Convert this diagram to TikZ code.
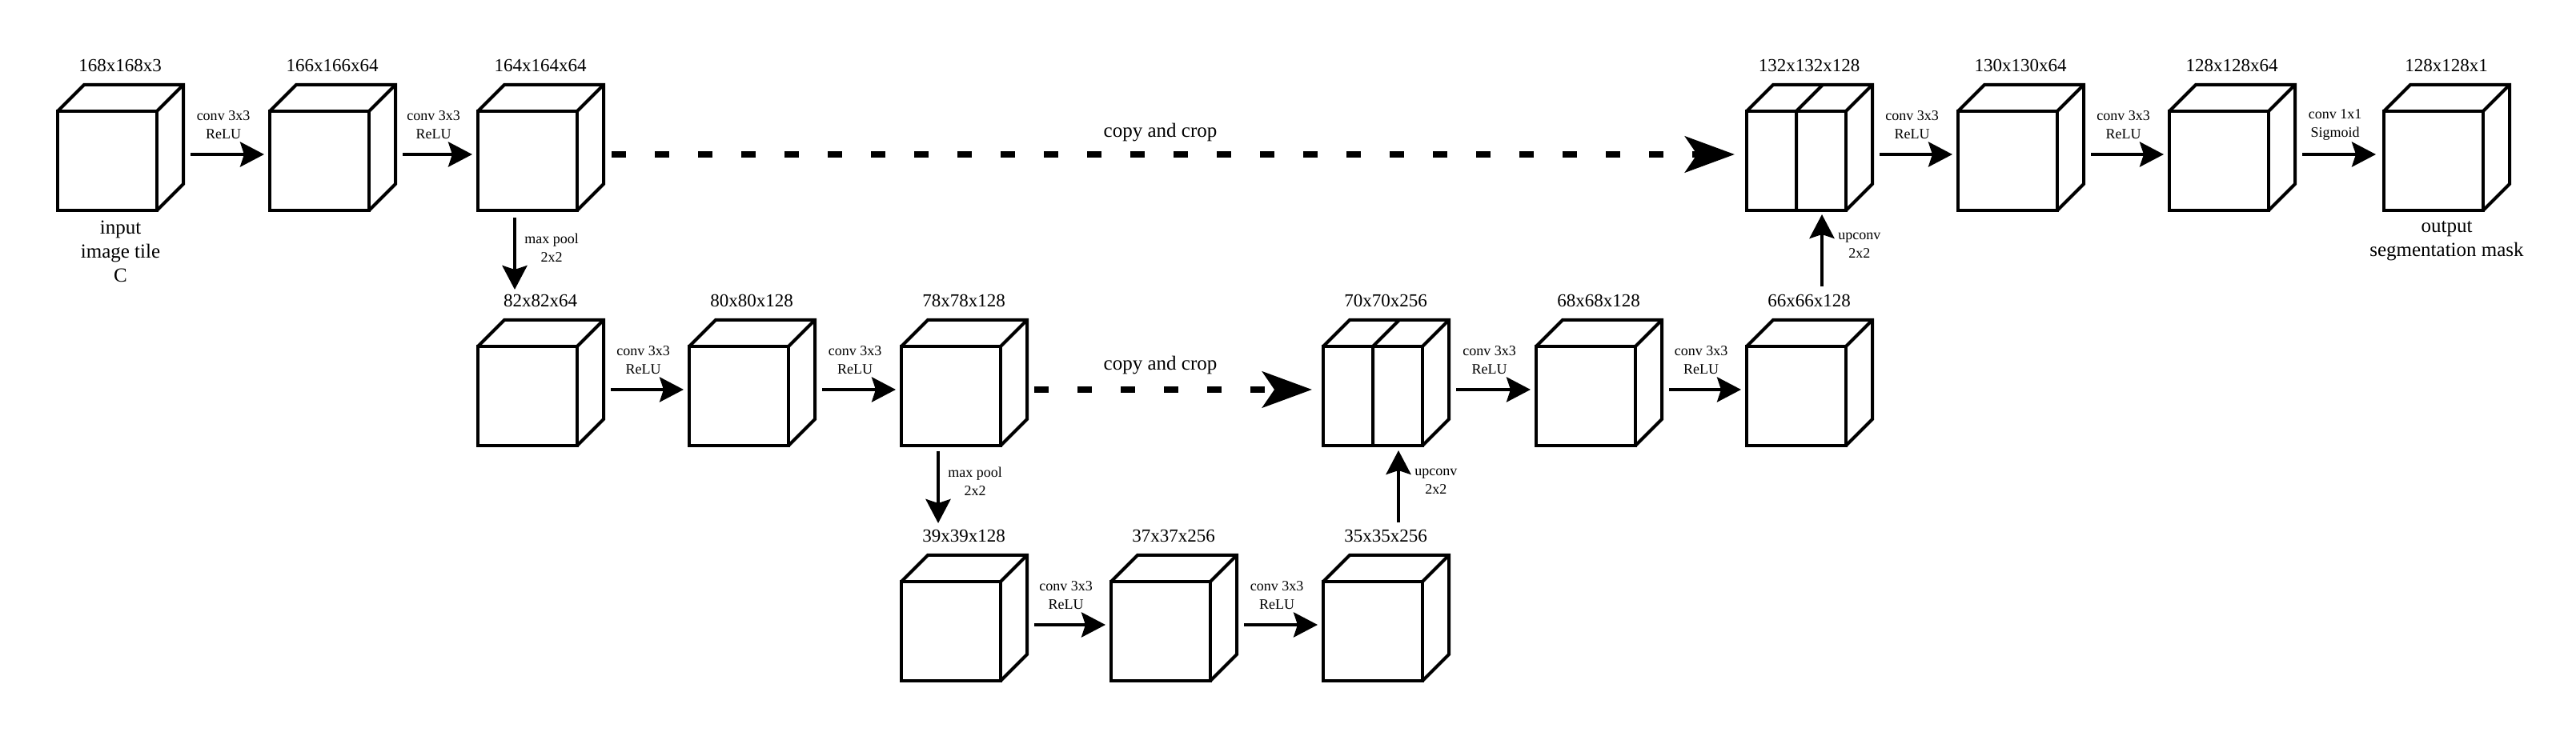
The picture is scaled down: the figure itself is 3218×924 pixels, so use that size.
\documentclass[tikz,border=0pt]{standalone}
\usepackage{fontspec}
\setmainfont{Liberation Serif}
\usetikzlibrary{arrows.meta}

\tikzset{
    cube/.style={draw, line width=4pt, minimum width=124pt, minimum height=124pt,
        inner sep=0pt, outer sep=0pt, anchor=north west},
    edge/.style={line width=4pt},
    dims/.style={font=\fontsize{23}{27}\selectfont, inner sep=0pt, anchor=base},
    op/.style={font=\fontsize{18}{23}\selectfont, align=center, inner sep=0pt},
    io/.style={font=\fontsize{25}{30}\selectfont, align=center, inner sep=0pt, anchor=north},
    flow/.style={line width=4.5pt, -{Stealth[length=30pt,width=31pt,inset=5pt]}},
    skip/.style={line width=8.5pt, dash pattern=on 18pt off 36pt,
        -{Stealth[length=62pt,width=45pt,inset=15pt]}},
}

\begin{document}
\begin{tikzpicture}[x=1pt,y=1pt]
    \useasboundingbox (0,0) rectangle (3218,924);
    % Feature maps: name / front left / front top / size
    \foreach \name/\x/\y/\lbl in {
        c1/72/785/168x168x3, c2/337/785/166x166x64, c3/597/785/164x164x64,
        c4/597/491/82x82x64, c5/861/491/80x80x128, c6/1126/491/78x78x128,
        c7/1126/197/39x39x128, c8/1388/197/37x37x256, c9/1653/197/35x35x256,
        c10/1653/491/70x70x256, c11/1919/491/68x68x128, c12/2182/491/66x66x128,
        c13/2182/785/132x132x128, c14/2446/785/130x130x64, c15/2710/785/128x128x64,
        c16/2978/785/128x128x1} {
        \node[cube] (\name) at (\x,\y) {};
        \draw[edge] (\name.north west) -- ++(33,33) -- ++(124,0) -- ++(0,-124) -- (\name.south east)
            (\name.north east) -- ++(33,33);
        \node[dims] (d\name) at ([shift={(78,49.5)}]\name.north west) {\lbl};
    }
    % Concatenated maps
    \foreach \name in {c10,c13} {
        \draw[edge] (\name.north) -- (\name.south) (\name.north) -- ++(33,33);
    }
    % Convolutions
    \foreach \a/\b in {c1/c2, c2/c3, c4/c5, c5/c6, c7/c8, c8/c9, c10/c11, c11/c12, c13/c14, c14/c15} {
        \draw[flow] ([shift={(42,8)}]\a.east) -- ([shift={(-7,8)}]\b.west)
            node[op, midway, xshift=-5pt, yshift=36.5pt] (o\a) {conv 3x3\\ReLU};
    }
    \draw[flow] ([shift={(42,8)}]c15.east) -- ([shift={(-10,8)}]c16.west)
        node[op, midway, xshift=-5pt, yshift=36.5pt] (oc15) {conv 1x1\\Sigmoid};
    % Max pooling
    \draw[flow] ([shift={(-16,-9)}]c3.south) -- ([shift={(-16,71)}]c4.north)
        node[op, midway, anchor=west, xshift=10pt, yshift=7pt] (p1) {max pool\\2x2};
    \draw[flow] ([shift={(-16,-7)}]c6.south) -- ([shift={(-16,73)}]c7.north)
        node[op, midway, anchor=west, xshift=10pt, yshift=7pt] (p2) {max pool\\2x2};
    % Up-convolutions
    \draw[flow] ([shift={(32,74)}]c9.north) -- ([shift={(32,-6)}]c10.south)
        node[op, midway, anchor=west, xshift=18pt, yshift=6pt] (u1) {upconv\\2x2};
    \draw[flow] ([shift={(32,75)}]c12.north) -- ([shift={(32,-5)}]c13.south)
        node[op, midway, anchor=west, xshift=18pt, yshift=6pt] (u2) {upconv\\2x2};
    % Skip connections
    \draw[skip] ([shift={(43,8)}]c3.east) -- ([shift={(-15,8)}]c13.west)
        node[io, midway, anchor=base, xshift=-16pt, yshift=21.5pt] (s1) {copy and crop};
    \draw[skip] ([shift={(42,8)}]c6.east) -- ([shift={(-14,8)}]c10.west)
        node[io, midway, anchor=base, xshift=-16pt, yshift=24pt] (s2) {copy and crop};
    % Input and output
    \node[io] (in) at ([shift={(16.5,-13)}]c1.south) {input\\image tile\\C};
    \node[io] (out) at ([shift={(16.5,-13)}]c16.south) {output\\segmentation mask};
\end{tikzpicture}
\end{document}
